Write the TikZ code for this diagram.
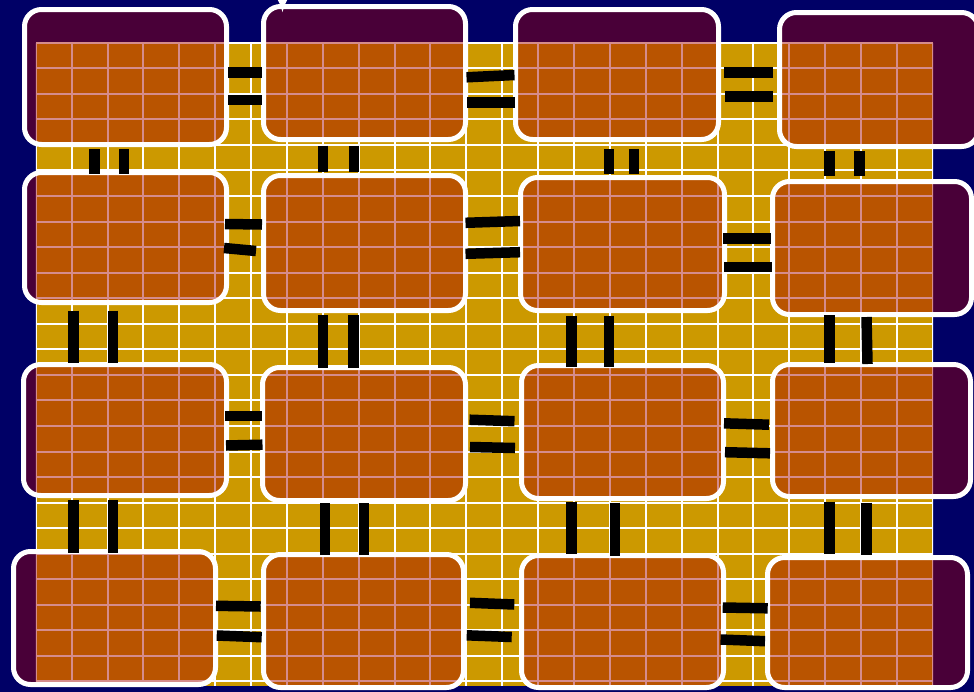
\documentclass[tikz,border=0pt]{standalone}
\usetikzlibrary{arrows.meta}
\definecolor{navy}{RGB}{0,0,102}
\definecolor{gold}{RGB}{204,153,0}
\definecolor{boxred}{RGB}{164,0,0}
\tikzset{
  gridline/.style={white, line width=2pt},
  panel/.style={rectangle, draw=white, line width=5pt, fill=boxred, fill opacity=0.45,
    rounded corners=17pt, inner sep=0pt, outer sep=0pt},
  bar/.style={black, line width=10.5pt},
}
\begin{document}
\begin{tikzpicture}[x=1pt,y=-1pt]
\useasboundingbox (0,0) rectangle (974,691);
\clip (0,0) rectangle (974,691);
\fill[navy] (-5,-5) rectangle (980,700);
\fill[gold] (35.8,42.7) rectangle (933,686);
\begin{scope}
  \clip (35.8,42.7) rectangle (933,686);
  \foreach \i in {0,...,25} \draw[gridline] ({35.8+35.88*\i},42.7) -- ({35.8+35.88*\i},686);
  \foreach \j in {0,...,25} \draw[gridline] (35.8,{42.7+25.55*\j}) -- (933,{42.7+25.55*\j});
\end{scope}
% panels
\node[panel, minimum width=202pt, minimum height=135pt] (b11) at (125.5,77) {};
\node[panel, minimum width=202pt, minimum height=133pt] (b12) at (364.5,73) {};
\node[panel, minimum width=203pt, minimum height=130pt] (b13) at (617,74.5) {};
\node[panel, minimum width=199pt, minimum height=134pt] (b14) at (879,79.5) {};
\node[panel, minimum width=202pt, minimum height=130pt] (b21) at (125.5,237.5) {};
\node[panel, minimum width=202pt, minimum height=135pt] (b22) at (364.5,243) {};
\node[panel, minimum width=204pt, minimum height=133pt] (b23) at (622.5,244) {};
\node[panel, minimum width=199pt, minimum height=133pt] (b24) at (872,248) {};
\node[panel, minimum width=203pt, minimum height=131pt] (b31) at (125,430) {};
\node[panel, minimum width=203pt, minimum height=133pt] (b32) at (364,434) {};
\node[panel, minimum width=202pt, minimum height=133pt] (b33) at (622.5,432) {};
\node[panel, minimum width=198pt, minimum height=132pt] (b34) at (871.5,430.5) {};
\node[panel, minimum width=202pt, minimum height=133pt] (b41) at (114.5,618) {};
\node[panel, minimum width=200pt, minimum height=133pt] (b42) at (363.5,621) {};
\node[panel, minimum width=202pt, minimum height=132pt] (b43) at (622.5,621.5) {};
\node[panel, minimum width=200pt, minimum height=130pt] (b44) at (867.5,622.5) {};
% horizontal bar pairs
\draw[bar] (228,72.3) -- (262,72.3);   \draw[bar] (228,100) -- (262,100);
\draw[bar] (466.5,77.3) -- (514.5,75); \draw[bar] (467,102.3) -- (515,102.3);
\draw[bar] (724,72.3) -- (772.5,72.3); \draw[bar] (725,96.3) -- (773,96.3);
\draw[bar] (225,224) -- (262,224.5);   \draw[bar] (224,248) -- (256,251);
\draw[bar] (465.5,222.8) -- (520,221); \draw[bar] (465.5,253.8) -- (520,252.2);
\draw[bar] (723,238.3) -- (771,238.3); \draw[bar] (724,267) -- (772,267);
\draw[bar] (225,416.2) -- (262,416.2); \draw[bar] (226,445.5) -- (262.5,444.7);
\draw[bar] (469.5,419.7) -- (514.5,421.2); \draw[bar] (470,447) -- (515,448);
\draw[bar] (724,423.3) -- (769,424.7); \draw[bar] (725,452.2) -- (770,453.3);
\draw[bar] (216,605.8) -- (260.7,606.5); \draw[bar] (216.7,635.5) -- (261.7,637.2);
\draw[bar] (470,602.8) -- (514.3,604.5); \draw[bar] (466.7,635.3) -- (511.7,637);
\draw[bar] (722.7,607.5) -- (767.7,608.3); \draw[bar] (720.5,639.5) -- (765,641.2);
% vertical bar pairs
\draw[bar] (94.5,149) -- (94.5,174);   \draw[bar] (123.8,149) -- (123.8,174);
\draw[bar] (73.3,310.7) -- (73.3,362.7); \draw[bar] (113,310.7) -- (113,362.7);
\draw[bar] (73.3,500) -- (73.3,552.7); \draw[bar] (113,500) -- (113,552.7);
\draw[bar] (322.8,145.7) -- (322.8,171.7); \draw[bar] (353.8,145.7) -- (353.8,171.7);
\draw[bar] (323.2,315) -- (323.2,368.3); \draw[bar] (353.5,315) -- (353.5,368.3);
\draw[bar] (325,503) -- (325,555); \draw[bar] (363.8,503) -- (363.8,555);
\draw[bar] (608.8,149) -- (608.8,174); \draw[bar] (633.8,149) -- (633.8,174);
\draw[bar] (571.7,315.7) -- (571.7,367); \draw[bar] (608.8,315.7) -- (608.8,367);
\draw[bar] (571.7,501.7) -- (571.7,554); \draw[bar] (615,502.7) -- (615,555.7);
\draw[bar] (829.5,151) -- (829.5,176); \draw[bar] (859.5,151) -- (859.5,176);
\draw[bar] (829.7,315) -- (829.7,362.7); \draw[bar] (866.5,317) -- (867.5,364);
\draw[bar] (829.7,501.7) -- (829.7,554); \draw[bar] (866.3,502.7) -- (866.3,555);
% arrow entering from top
\coordinate (arrowsrc) at (282.5,-40);
\coordinate (arrowtip) at (282.5,12.5);
\draw[white, line width=1.5pt, -{Latex[length=13pt,width=10pt]}] (arrowsrc) -- (arrowtip);
\end{tikzpicture}
\end{document}
